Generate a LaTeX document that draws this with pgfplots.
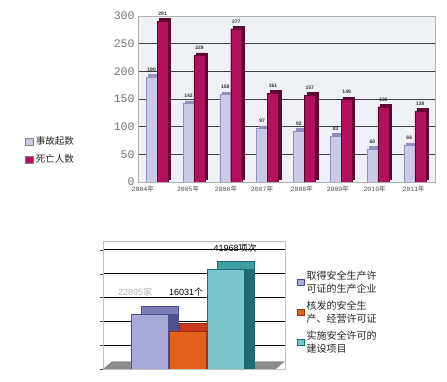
\documentclass[border=0pt]{standalone}
\usepackage{pgfplots}
\pgfplotsset{compat=1.18}
\usepackage{fontspec}
\setmainfont{Liberation Serif}
\setsansfont{Liberation Sans}
\setmonofont{Liberation Mono}
\newfontfamily\cjk{Noto Sans CJK SC}
\definecolor{lav}{HTML}{C9CBE6}
\definecolor{lavd}{HTML}{8E91BE}
\definecolor{crim}{HTML}{B3105E}
\definecolor{crimd}{HTML}{5E0630}
\definecolor{panel}{HTML}{EEF1F6}
\definecolor{bA}{HTML}{A7A9D6}
\definecolor{bAt}{HTML}{7B7DB8}
\definecolor{bAs}{HTML}{4E5090}
\definecolor{bB}{HTML}{E2621A}
\definecolor{bBt}{HTML}{C8381C}
\definecolor{bBs}{HTML}{A02810}
\definecolor{bC}{HTML}{78C6CB}
\definecolor{bCt}{HTML}{3E9EA2}
\definecolor{bCs}{HTML}{1C6C70}
\begin{document}
\begin{tikzpicture}[x=1pt,y=1pt]
\path[use as bounding box, fill=white] (0,0) rectangle (447,382);
% ---------------- top chart ----------------
\begin{axis}[
  at={(138pt,200pt)}, anchor=south west, scale only axis,
  width=297pt, height=166pt,
  ymin=0, ymax=300, xmin=-0.52, xmax=7.55,
  ybar, bar width=11pt,
  xtick={-0.39,0.84,1.87,2.85,3.93,4.91,5.91,6.97},
  xticklabels={2004{\cjk 年},2005{\cjk 年},2006{\cjk 年},2007{\cjk 年},2008{\cjk 年},2009{\cjk 年},2010{\cjk 年},2011{\cjk 年}},
  xticklabel style={font=\ttfamily\fontsize{6.5}{7}\selectfont, text=black!70},
  ytick={0,50,...,300},
  yticklabel style={font=\ttfamily\fontsize{11.5}{12}\selectfont, text=black!55},
  /pgf/number format/assume math mode=true,
  major tick length=0pt,
  ymajorgrids, grid style={black!75, line width=0.7pt},
  axis background/.style={fill=panel},
  axis line style={black!30, line width=0.8pt},
  nodes near coords,
  every node near coord/.append style={font=\sffamily\bfseries\fontsize{5}{5}\selectfont, text=black!80, yshift=2pt},
  legend style={at={(-0.39,0.19)}, anchor=west, draw=none, fill=none,
    font=\cjk\fontsize{9.5}{10}\selectfont, row sep=5pt, text=black!85},
  legend cell align=left,
]
\addlegendimage{legend image code/.code={\draw[fill=lav,draw=black!50] (0pt,-3.5pt) rectangle (8pt,3.5pt);}}
\addlegendentry{事故起数}
\addlegendimage{legend image code/.code={\draw[fill=crim,draw=black!50] (0pt,-3.5pt) rectangle (8pt,3.5pt);}}
\addlegendentry{死亡人数}
\addplot[forget plot, bar shift=-5.5pt, fill=lav, draw=lavd, line width=0.4pt,
  preaction={fill=lavd, transform canvas={shift={(2.5pt,2.5pt)}}}]
  coordinates {(0,190) (1,142) (2,158) (3,97) (4,92) (5,83) (6,60) (7,66)};
\addplot[forget plot, bar shift=5.5pt, fill=crim, draw=crimd, line width=0.4pt,
  preaction={fill=crimd, transform canvas={shift={(2.5pt,2.5pt)}}}]
  coordinates {(0,291) (1,229) (2,277) (3,161) (4,157) (5,149) (6,136) (7,128)};
\end{axis}
% ---------------- bottom chart ----------------
\begin{axis}[
  at={(103pt,13pt)}, anchor=south west, scale only axis,
  width=182pt, height=128pt,
  ymin=0, ymax=53700, xmin=-1.24, xmax=3.55,
  ybar, bar width=37pt, bar shift=0pt,
  xtick=\empty,
  scaled y ticks=false,
  ytick={0,10000,...,50000}, yticklabels={},
  ytick pos=left, tick align=outside, major tick length=3pt,
  tick style={black!70},
  ymajorgrids, grid style={black, line width=0.7pt},
  axis line style={black!25},
  legend style={at={(1.05,0.80)}, anchor=north west, draw=none, fill=none,
    font=\cjk\fontsize{10}{13}\selectfont, row sep=3pt, text=black!85,
    cells={anchor=west, align=left}},
  legend cell align=left,
]
\addlegendimage{legend image code/.code={\draw[fill=bA,draw=bAs] (0pt,-3pt) rectangle (7pt,3pt);}}
\addlegendentry{取得安全生产许\\可证的生产企业}
\addlegendimage{legend image code/.code={\draw[fill=bB,draw=bBs] (0pt,-3pt) rectangle (7pt,3pt);}}
\addlegendentry{核发的安全生\\产、经营许可证}
\addlegendimage{legend image code/.code={\draw[fill=bC,draw=bCs] (0pt,-3pt) rectangle (7pt,3pt);}}
\addlegendentry{实施安全许可的\\建设项目}
% floor
\fill[black!45] (rel axis cs:0,0) -- (rel axis cs:0.05,0.06) -- (rel axis cs:1,0.06) -- (rel axis cs:0.95,0) -- cycle;
\addplot[forget plot, fill=bA, draw=bAs, line width=0.4pt,
  preaction={fill=bAt, transform canvas={shift={(10pt,8pt)}}},
  preaction={fill=bAs, transform canvas={shift={(10pt,0pt)}}},
  nodes near coords={22895{\cjk 家}},
  every node near coord/.append style={font=\sffamily\fontsize{9}{9}\selectfont, text=black!30, xshift=-15pt, yshift=14pt}]
  coordinates {(0,23000)};
\addplot[forget plot, fill=bB, draw=bBs, line width=0.4pt,
  preaction={fill=bBt, transform canvas={shift={(10pt,8pt)}}},
  preaction={fill=bBs, transform canvas={shift={(10pt,0pt)}}},
  nodes near coords={16031{\cjk 个}},
  every node near coord/.append style={font=\sffamily\fontsize{9}{9}\selectfont, text=black, xshift=-2pt, yshift=31pt}]
  coordinates {(1,16031)};
\addplot[forget plot, fill=bC, draw=bCs, line width=0.4pt,
  preaction={fill=bCt, transform canvas={shift={(10pt,8pt)}}},
  preaction={fill=bCs, transform canvas={shift={(10pt,0pt)}}},
  nodes near coords={41968{\cjk 项次}},
  every node near coord/.append style={font=\sffamily\fontsize{9}{9}\selectfont, text=black, xshift=9pt, yshift=13pt}]
  coordinates {(2,41968)};
\end{axis}
\end{tikzpicture}
\end{document}
